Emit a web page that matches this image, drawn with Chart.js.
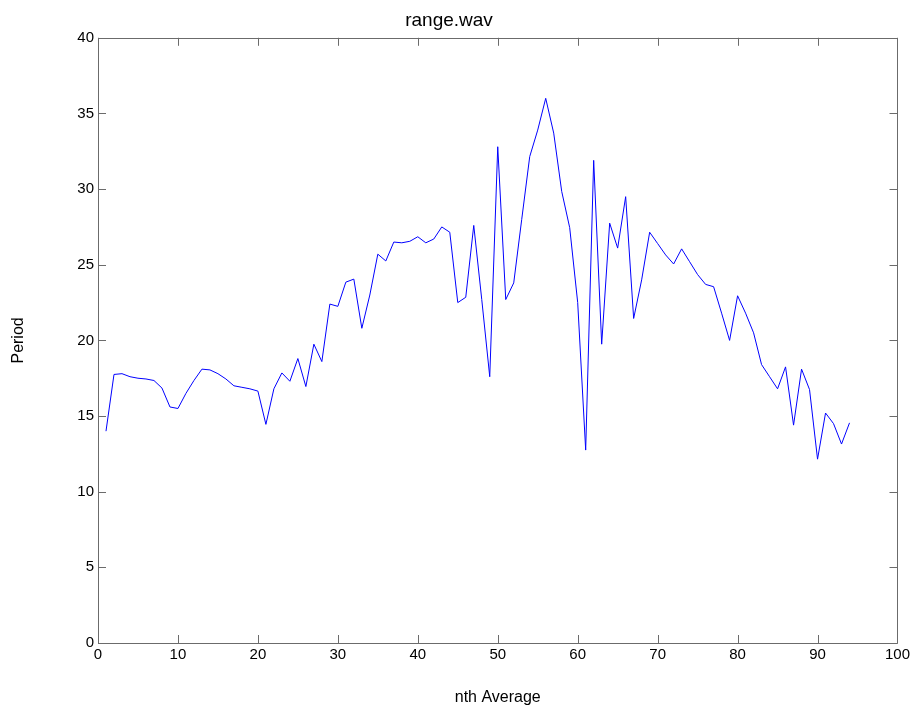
<!DOCTYPE html>
<html>
<head>
<meta charset="utf-8">
<script src="https://cdn.jsdelivr.net/npm/chart.js@4/dist/chart.umd.min.js"></script>
<style>
  html, body { margin: 0; padding: 0; background: #fff; }
  #wrap { width: 913px; height: 708px; }
</style>
</head>
<body>
<div id="wrap"><canvas id="c" width="913" height="708"></canvas></div>
<script>
const titleText = "range.wav";
const xAxisTitle = "nth Average";
const yAxisTitle = "Period";

const xValues = [];
for (let i = 1; i <= 94; i++) xValues.push(i);

const periodValues = [
  14.0, 17.75, 17.8, 17.6, 17.5, 17.45, 17.35, 16.85, 15.6, 15.5,
  16.5, 17.35, 18.1, 18.05, 17.8, 17.45, 17.0, 16.9, 16.8, 16.65,
  14.45, 16.8, 17.85, 17.3, 18.8, 16.95, 19.75, 18.6, 22.4, 22.25,
  23.85, 24.05, 20.8, 23.0, 25.7, 25.25, 26.5, 26.45, 26.55, 26.85,
  26.45, 26.7, 27.5, 27.15, 22.5, 22.85, 27.6, 22.7, 17.6, 32.8,
  22.7, 23.8, 28.0, 32.15, 33.9, 36.0, 33.7, 29.85, 27.45, 22.5,
  12.75, 31.9, 19.75, 27.75, 26.1, 29.5, 21.45, 24.0, 27.15, 26.4,
  25.65, 25.05, 26.05, 25.2, 24.35, 23.7, 23.55, 21.8, 20.0, 22.95,
  21.8, 20.5, 18.4, 17.6, 16.8, 18.25, 14.4, 18.1, 16.75, 12.15,
  15.2, 14.5, 13.15, 14.55
];

const xTickLabels = [0, 10, 20, 30, 40, 50, 60, 70, 80, 90, 100];
const yTickLabels = [0, 5, 10, 15, 20, 25, 30, 35, 40];

const points = xValues.map((x, i) => ({ x: x, y: periodValues[i] }));

const framePlugin = {
  id: 'matlabFrame',
  afterDatasetsDraw(chart) {
    const ctx = chart.ctx;
    const a = chart.chartArea;
    const xs = chart.scales.x, ys = chart.scales.y;
    const tl = 8;
    ctx.save();
    ctx.strokeStyle = '#6b6b6b';
    ctx.lineWidth = 1;
    ctx.beginPath();
    ctx.rect(Math.round(a.left) + 0.5, Math.round(a.top) + 0.5,
             Math.round(a.right - a.left), Math.round(a.bottom - a.top));
    ctx.stroke();
    ctx.beginPath();
    xs.ticks.forEach(t => {
      const px = Math.round(xs.getPixelForValue(t.value)) + 0.5;
      ctx.moveTo(px, a.bottom); ctx.lineTo(px, a.bottom - tl);
      ctx.moveTo(px, a.top); ctx.lineTo(px, a.top + tl);
    });
    ys.ticks.forEach(t => {
      const py = Math.round(ys.getPixelForValue(t.value)) + 0.5;
      ctx.moveTo(a.left, py); ctx.lineTo(a.left + tl, py);
      ctx.moveTo(a.right, py); ctx.lineTo(a.right - tl, py);
    });
    ctx.stroke();
    ctx.restore();
  }
};

const fontFamily = '"Liberation Sans", Arial, Helvetica, sans-serif';

new Chart(document.getElementById('c'), {
  type: 'line',
  data: {
    datasets: [{
      data: points,
      borderColor: '#0000ff',
      borderWidth: 1,
      pointRadius: 0,
      tension: 0,
      fill: false
    }]
  },
  options: {
    responsive: false,
    animation: false,
    devicePixelRatio: 1,
    layout: { padding: { top: 0, right: 15, left: 0, bottom: 0 } },
    plugins: {
      legend: { display: false },
      tooltip: { enabled: false },
      title: {
        display: true,
        text: titleText,
        color: '#000',
        font: { family: fontFamily, size: 19, weight: 'normal' },
        padding: { top: 9, bottom: 6 }
      }
    },
    scales: {
      x: {
        type: 'linear',
        min: 0, max: 100,
        afterFit(scale) { scale.height = 65; },
        afterBuildTicks(scale) { scale.ticks = xTickLabels.map(v => ({ value: v })); },
        grid: { display: false, drawTicks: false },
        border: { display: false },
        ticks: {
          color: '#000',
          padding: 3,
          autoSkip: false,
          maxRotation: 0,
          font: { family: fontFamily, size: 15 }
        },
        title: {
          display: true,
          text: xAxisTitle,
          color: '#000',
          font: { family: fontFamily, size: 16 },
          padding: { top: 0, bottom: 1 }
        }
      },
      y: {
        type: 'linear',
        min: 0, max: 40,
        afterFit(scale) { scale.width = 98; },
        afterBuildTicks(scale) { scale.ticks = yTickLabels.map(v => ({ value: v })); },
        grid: { display: false, drawTicks: false },
        border: { display: false },
        ticks: {
          color: '#000',
          padding: 4,
          autoSkip: false,
          font: { family: fontFamily, size: 15 }
        },
        title: {
          display: true,
          text: yAxisTitle,
          color: '#000',
          font: { family: fontFamily, size: 16 },
          padding: { top: 9, bottom: 0 }
        }
      }
    }
  },
  plugins: [framePlugin]
});
</script>
</body>
</html>
